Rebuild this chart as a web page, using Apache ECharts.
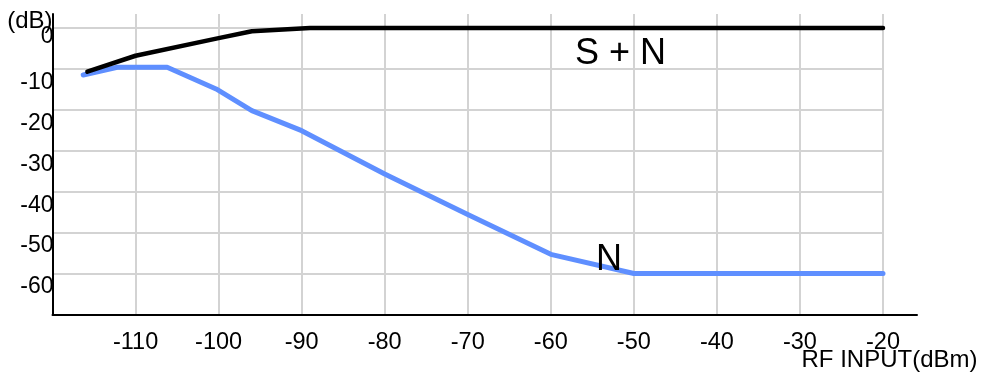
<!DOCTYPE html>
<html>
<head>
<meta charset="utf-8">
<script src="https://cdn.jsdelivr.net/npm/echarts@6/dist/echarts.min.js"></script>
<style>
html,body{margin:0;padding:0;background:#fff;}
#chart{width:983px;height:376px;}
</style>
</head>
<body>
<div id="chart"></div>
<script>
// Data
const snX = [-115.8, -110, -100, -96, -89, -20];
const snY = [-10.7, -6.8, -2.5, -0.8, 0, 0];
const nX = [-116.3, -112.2, -106.2, -100.3, -96, -90, -80, -70, -60, -50, -20];
const nY = [-11.5, -9.6, -9.6, -14.9, -20.2, -25.1, -35.7, -45.6, -55.3, -60, -60];
const snLabel = { text: 'S + N', x: -51.6, y: -6.5 };
const nLabel = { text: 'N', x: -53.0, y: -56.7 };
const xRange = [-120, -20];
const xLineMax = -16;
const yRange = [-70, 3.4];
const tickStep = 10;

const font = 'Liberation Sans, Arial, Helvetica, sans-serif';
const chart = echarts.init(document.getElementById('chart'), null, { renderer: 'canvas' });

function pairs(xs, ys) { return xs.map((x, i) => [x, ys[i]]); }

const option = {
  animation: false,
  backgroundColor: '#ffffff',
  textStyle: { fontFamily: font },
  grid: [
    { left: 52.5, right: 100, top: 14, bottom: 61.5 },
    { left: 52.5, right: 66, top: 14, bottom: 61.5 }
  ],
  xAxis: [
    {
      type: 'value', gridIndex: 0, min: xRange[0], max: xRange[1], interval: tickStep,
      axisLine: { show: false }, axisTick: { show: false },
      axisLabel: { showMinLabel: false, color: '#000', fontSize: 23.5, fontFamily: font, margin: 16, verticalAlign: 'top' },
      splitLine: { show: true, showMinLine: false, lineStyle: { color: '#d3d3d3', width: 2 } }
    },
    {
      type: 'value', gridIndex: 1, min: xRange[0], max: xLineMax,
      axisLine: { show: true, onZero: false, lineStyle: { color: '#000', width: 2 } },
      axisTick: { show: false }, axisLabel: { show: false }, splitLine: { show: false },
      name: 'RF INPUT(dBm)', nameLocation: 'end', nameGap: -27.5, nameMoveOverlap: false,
      nameTextStyle: { color: '#000', fontSize: 24, fontFamily: font, align: 'center', verticalAlign: 'top', padding: [34, 0, 0, 0] }
    }
  ],
  yAxis: [
    {
      type: 'value', gridIndex: 0, min: yRange[0], max: yRange[1], interval: tickStep,
      axisLine: { show: true, onZero: false, lineStyle: { color: '#000', width: 2 } },
      axisTick: { show: false },
      axisLabel: {
        showMinLabel: false, showMaxLabel: false, color: '#000', fontSize: 23, fontFamily: font, margin: -1, align: 'right', verticalAlign: 'top',
        formatter: v => (v === 0 ? '{z|0}' : '{n|' + v + '}'),
        rich: {
          n: { fontSize: 23, fontFamily: font, color: '#000', padding: [2, 0, 0, 0] },
          z: { fontSize: 23, fontFamily: font, color: '#000', padding: [-3, 0, 0, 0] }
        }
      },
      splitLine: { show: true, showMinLine: false, showMaxLine: false, lineStyle: { color: '#d3d3d3', width: 2 } },
      name: '(dB)', nameLocation: 'end', nameGap: -7.5, nameMoveOverlap: false,
      nameTextStyle: { color: '#000', fontSize: 24, fontFamily: font, align: 'right', verticalAlign: 'middle' }
    },
    { type: 'value', gridIndex: 1, min: yRange[0], max: yRange[1], show: false }
  ],
  series: [
    {
      type: 'line', xAxisIndex: 0, yAxisIndex: 0, data: pairs(nX, nY),
      showSymbol: false, symbol: 'none', clip: false,
      lineStyle: { color: '#5f8fff', width: 5, cap: 'round', join: 'round' },
      markPoint: {
        symbol: 'circle', symbolSize: 0,
        label: { show: true, position: 'inside', color: '#000', fontSize: 36, fontFamily: font, formatter: p => p.name },
        data: [{ name: nLabel.text, coord: [nLabel.x, nLabel.y] }]
      }
    },
    {
      type: 'line', xAxisIndex: 0, yAxisIndex: 0, data: pairs(snX, snY),
      showSymbol: false, symbol: 'none', clip: false,
      lineStyle: { color: '#000000', width: 4.5, cap: 'round', join: 'round' },
      markPoint: {
        symbol: 'circle', symbolSize: 0,
        label: { show: true, position: 'inside', color: '#000', fontSize: 36, fontFamily: font, formatter: p => p.name },
        data: [{ name: snLabel.text, coord: [snLabel.x, snLabel.y] }]
      }
    }
  ]
};
chart.setOption(option);
</script>
</body>
</html>
